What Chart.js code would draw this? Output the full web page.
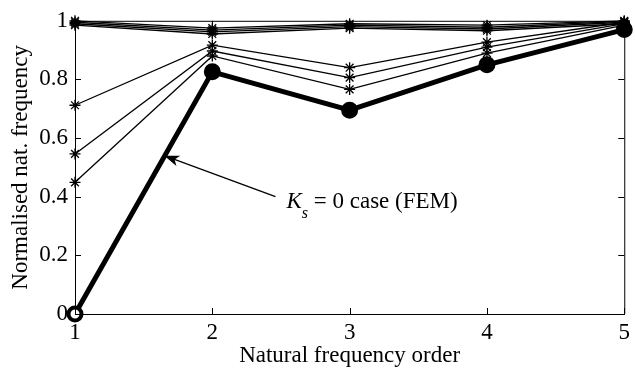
<!DOCTYPE html>
<html>
<head>
<meta charset="utf-8">
<script src="https://cdn.jsdelivr.net/npm/chart.js@4/dist/chart.umd.min.js"></script>
<style>
  html, body { margin: 0; padding: 0; background: #fff; }
  canvas { display: block; }
</style>
</head>
<body>
<canvas id="grafico" width="635" height="370"></canvas>
<script>
const ordens = [1, 2, 3, 4, 5];
const xTicks = [1, 2, 3, 4, 5];
const yTicks = [0, 0.2, 0.4, 0.6, 0.8, 1];

// curvas com Ks alto, quase coladas em 1
const topo1 = [1.0, 0.975, 0.99, 0.985, 1.0];
const topo2 = [0.995, 0.968, 0.985, 0.978, 0.998];
const topo3 = [0.99, 0.962, 0.98, 0.972, 0.995];
const topo4 = [0.985, 0.955, 0.975, 0.966, 0.99];
// curvas intermediarias
const ksA = [0.712, 0.917, 0.84, 0.927, 0.995];
const ksB = [0.546, 0.897, 0.806, 0.91, 0.99];
const ksC = [0.449, 0.88, 0.766, 0.89, 0.985];
// caso Ks = 0 (FEM)
const fem = [0, 0.826, 0.695, 0.85, 0.97];

// seta e texto da anotacao (coordenadas de dados)
const setaPonta = [1.65, 0.54];
const setaCauda = [2.46, 0.40];
const textoPos = [2.54, 0.361];

const fonte = 'Liberation Serif';
const pts = serie => ordens.map((x, i) => ({ x: x, y: serie[i] }));

const fina = serie => ({
    data: pts(serie),
    borderColor: '#000',
    borderWidth: 1.3,
    pointStyle: 'star',
    pointRadius: 5.5,
    pointBorderWidth: 1.3,
    pointBorderColor: '#000',
    pointBackgroundColor: '#000',
    clip: false
});

const ticksDentro = {
    id: 'ticksDentro',
    afterDatasetsDraw(chart) {
        const { ctx, chartArea: a, scales: { x, y } } = chart;
        ctx.save();
        ctx.strokeStyle = '#000';
        ctx.lineWidth = 1;
        ctx.beginPath();
        // caixa (topo e direita)
        ctx.moveTo(a.left, a.top + 0.5);
        ctx.lineTo(a.right + 0.5, a.top + 0.5);
        ctx.lineTo(a.right + 0.5, a.bottom);
        xTicks.forEach(v => {
            const px = Math.round(x.getPixelForValue(v)) + 0.5;
            ctx.moveTo(px, a.bottom); ctx.lineTo(px, a.bottom - 6);
            ctx.moveTo(px, a.top); ctx.lineTo(px, a.top + 6);
        });
        yTicks.forEach(v => {
            const py = Math.round(y.getPixelForValue(v)) + 0.5;
            ctx.moveTo(a.left, py); ctx.lineTo(a.left + 6, py);
            ctx.moveTo(a.right, py); ctx.lineTo(a.right - 6, py);
        });
        ctx.stroke();
        ctx.restore();
    }
};

const anotacao = {
    id: 'anotacao',
    afterDraw(chart) {
        const { ctx, scales: { x, y } } = chart;
        const tx = x.getPixelForValue(setaPonta[0]), ty = y.getPixelForValue(setaPonta[1]);
        const cx = x.getPixelForValue(setaCauda[0]), cy = y.getPixelForValue(setaCauda[1]);
        const ang = Math.atan2(ty - cy, tx - cx);
        ctx.save();
        ctx.strokeStyle = '#000';
        ctx.fillStyle = '#000';
        ctx.lineWidth = 1.3;
        ctx.beginPath();
        ctx.moveTo(cx, cy);
        ctx.lineTo(tx - 8 * Math.cos(ang), ty - 8 * Math.sin(ang));
        ctx.stroke();
        // ponta da seta
        ctx.translate(tx, ty);
        ctx.rotate(ang);
        ctx.beginPath();
        ctx.moveTo(0, 0);
        ctx.lineTo(-15, -5.5);
        ctx.lineTo(-11, 0);
        ctx.lineTo(-15, 5.5);
        ctx.closePath();
        ctx.fill();
        ctx.restore();

        // texto: K_s = 0 case (FEM)
        let px = x.getPixelForValue(textoPos[0]);
        const base = y.getPixelForValue(textoPos[1]);
        ctx.save();
        ctx.fillStyle = '#000';
        ctx.textBaseline = 'alphabetic';
        ctx.font = 'italic 23px "' + fonte + '"';
        ctx.fillText('K', px, base);
        px += ctx.measureText('K').width;
        ctx.font = 'italic 16px "' + fonte + '"';
        ctx.fillText('s', px, base + 10);
        px += ctx.measureText('s').width;
        ctx.font = '23px "' + fonte + '"';
        ctx.fillText(' = 0 case (FEM)', px, base);
        ctx.restore();
    }
};

new Chart(document.getElementById('grafico'), {
    type: 'line',
    data: {
        datasets: [
            fina(topo1), fina(topo2), fina(topo3), fina(topo4),
            fina(ksA), fina(ksB), fina(ksC),
            {
                data: pts(fem),
                borderColor: '#000',
                borderWidth: 5,
                pointStyle: 'circle',
                pointRadius: 6.5,
                pointBorderWidth: 4,
                pointBorderColor: '#000',
                pointBackgroundColor: fem.map((v, i) => i === 0 ? '#fff' : '#000'),
                clip: false
            }
        ]
    },
    options: {
        responsive: false,
        devicePixelRatio: 1,
        animation: false,
        layout: { padding: { top: 17, right: 6, left: 0, bottom: 0 } },
        plugins: {
            legend: { display: false },
            tooltip: { enabled: false }
        },
        scales: {
            x: {
                type: 'linear',
                min: 1,
                max: 5,
                afterBuildTicks: s => { s.ticks = xTicks.map(v => ({ value: v })); },
                afterFit: s => { s.height = 56; },
                grid: { display: false, drawTicks: false },
                border: { color: '#000', width: 1 },
                ticks: {
                    color: '#000',
                    padding: 5,
                    maxRotation: 0,
                    font: { family: fonte, size: 23 }
                },
                title: {
                    display: true,
                    text: 'Natural frequency order',
                    color: '#000',
                    padding: 0,
                    font: { family: fonte, size: 23 }
                }
            },
            y: {
                min: 0,
                max: 1,
                afterBuildTicks: s => { s.ticks = yTicks.map(v => ({ value: v })); },
                afterFit: s => { s.width = 75; },
                grid: { display: false, drawTicks: false },
                border: { color: '#000', width: 1 },
                ticks: {
                    color: '#000',
                    padding: 7,
                    callback: v => String(v),
                    font: { family: fonte, size: 23 }
                },
                title: {
                    display: true,
                    text: 'Normalised nat. frequency',
                    color: '#000',
                    padding: { top: 7, bottom: 0 },
                    font: { family: fonte, size: 23 }
                }
            }
        }
    },
    plugins: [ticksDentro, anotacao]
});
</script>
</body>
</html>
